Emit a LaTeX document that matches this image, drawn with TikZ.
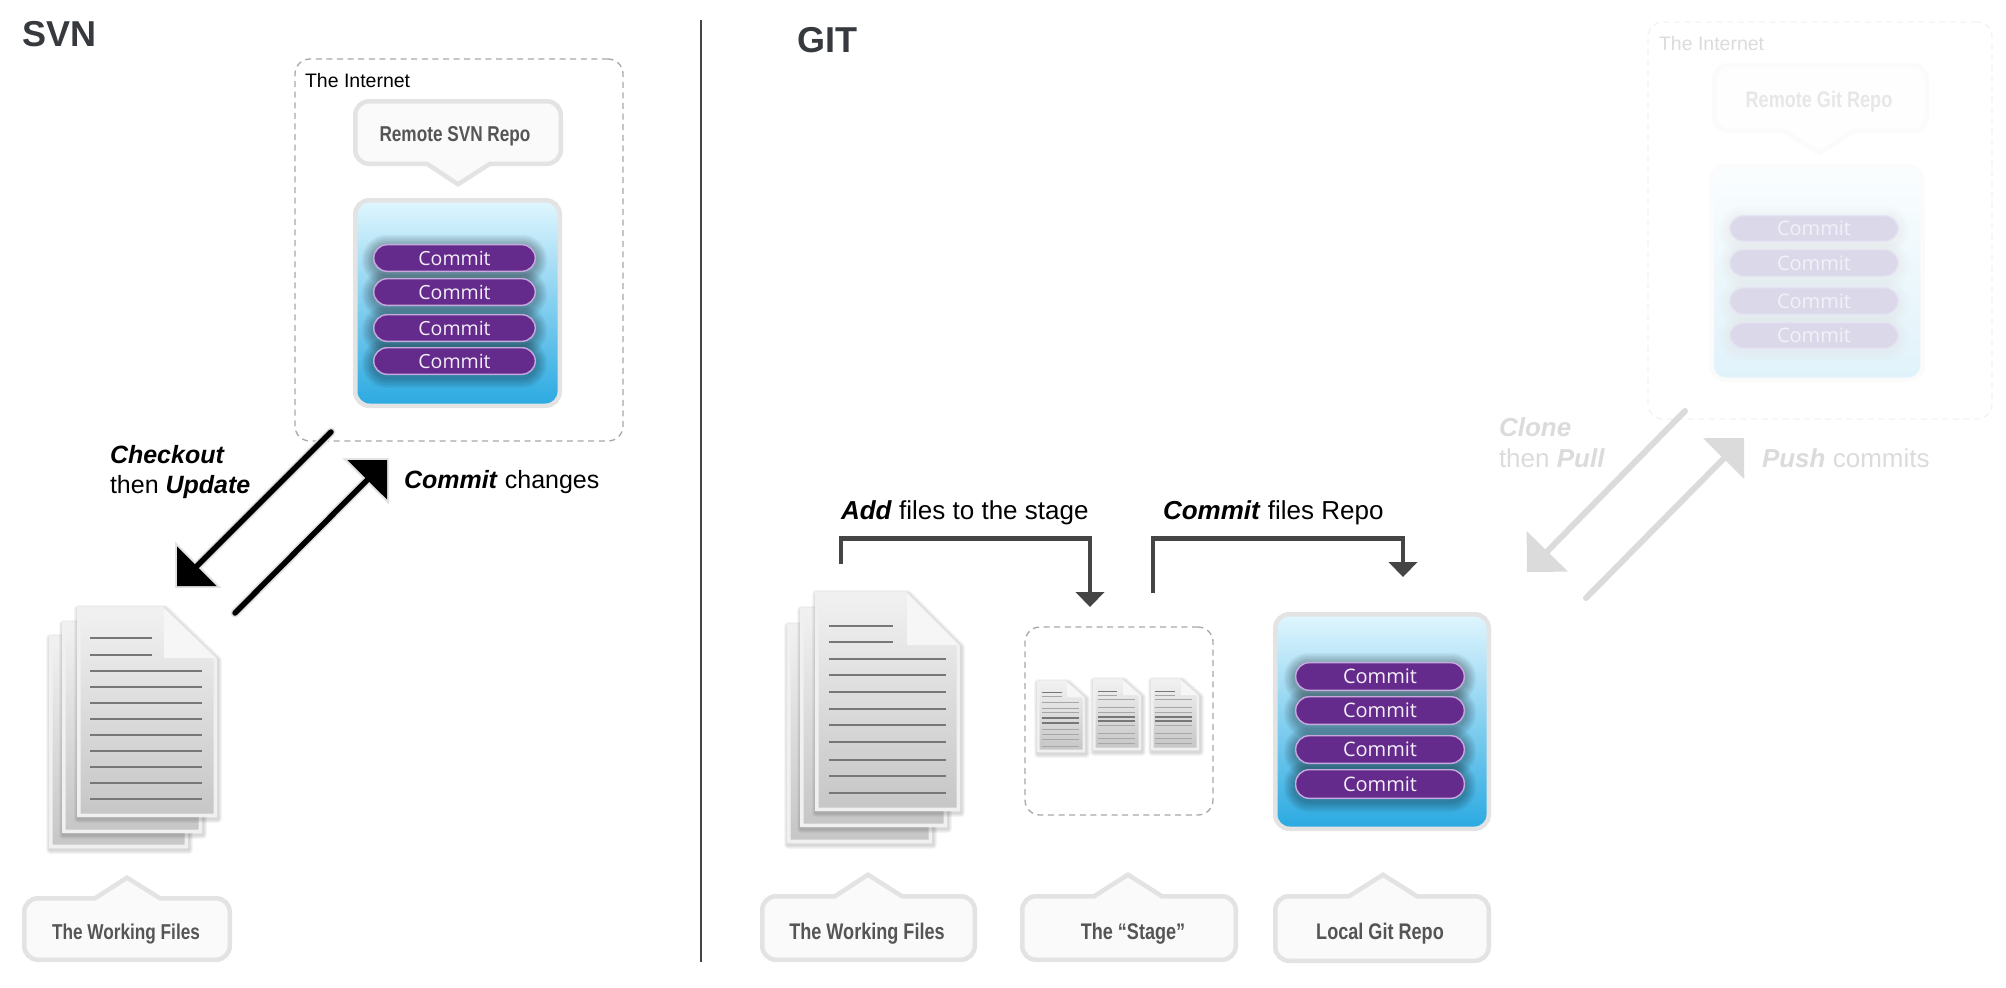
\documentclass[tikz,border=0pt]{standalone}
\usepackage{fontspec}
\setmainfont{Liberation Sans}
\newfontfamily\condfont[FakeStretch=0.80]{Liberation Sans}
\newfontfamily\commitfont{Open Sans}
\usetikzlibrary{arrows.meta}
\definecolor{edgegray}{HTML}{E3E3E3}
\definecolor{callfill}{HTML}{FAFAFA}
\definecolor{calltext}{HTML}{555555}
\definecolor{dashgray}{HTML}{A8A8A8}
\definecolor{titleink}{HTML}{36393D}
\definecolor{bracketink}{HTML}{454545}
\definecolor{pillfill}{HTML}{642B8C}
\definecolor{pillrim}{HTML}{C8A9DE}
\definecolor{pilltext}{HTML}{F4EFF8}
\definecolor{repotop}{HTML}{E0F6FE}
\definecolor{repobot}{HTML}{2AA9E1}
\definecolor{pagetop}{HTML}{F1F1F1}
\definecolor{pagebot}{HTML}{C6C6C6}
\definecolor{pagerim}{HTML}{F0F0F0}
\definecolor{foldfill}{HTML}{F6F6F6}
\definecolor{foldedge}{HTML}{DEDEDE}
\definecolor{pageline}{HTML}{777777}
\definecolor{fadepill}{HTML}{DBD8EA}
\definecolor{faderim}{HTML}{E6E4F2}
\definecolor{fadetext}{HTML}{F0F2F7}
\tikzset{
  txt/.style={anchor=base west,inner sep=0pt,outer sep=0pt,font=\fontsize{25}{30}\selectfont,text=black},
  gittxt/.style={txt,font=\fontsize{26}{31}\selectfont},
  inettxt/.style={anchor=base west,inner sep=0pt,outer sep=0pt,font=\fontsize{19.5}{22}\selectfont,text=black},
  titletxt/.style={anchor=base west,inner sep=0pt,outer sep=0pt,font=\fontsize{36}{40}\selectfont\bfseries,text=titleink},
  calltxt/.style={anchor=base,inner sep=0pt,outer sep=0pt,font=\fontsize{21.5}{24}\condfont\bfseries,text=calltext},
  gitcalltxt/.style={calltxt,font=\fontsize{22.6}{24}\condfont\bfseries},
  callbox/.style={draw=edgegray,fill=callfill,line width=4.5pt,miter limit=10},
  dashbox/.style={draw=dashgray,line width=1.3pt,dash pattern=on 6pt off 4.6pt,rounded corners=15pt,inner sep=0pt,outer sep=0pt},
  repobox/.style={draw=edgegray,line width=4.5pt,rounded corners=14pt,top color=repotop,bottom color=repobot,inner sep=0pt,outer sep=0pt},
  pillbox/.style={draw=pillrim,fill=pillfill,line width=1.4pt,rounded corners=13.5pt,inner sep=0pt,outer sep=0pt,text=pilltext},
  bigshaft/.style={line width=5.5pt,line cap=round,black,-{Triangle[length=28pt,width=56pt,line width=0pt]}},
  bighalo/.style={line width=9pt,line cap=round,edgegray,shorten >=-2.8pt,-{Triangle[length=33pt,width=66pt,line width=0pt]}},
  fadeshaft/.style={line width=6pt,line cap=round,black,-{Triangle[length=29pt,width=58pt,line width=0pt]}},
  bracket/.style={line width=4.6pt,bracketink,-{Triangle[length=15pt,width=29pt,line width=0pt]}},
  divider/.style={line width=2pt,draw=bracketink},
  pagelinethin/.style={line width=1.4pt,pageline},
  pagelinethick/.style={line width=2.1pt,pageline},
  tinyline/.style={line width=0.7pt,pageline!65},
}
% soft blurred shadow of a rounded box
\newcommand\softrect[6]{% x1 y1 x2 y2 radius reach-list
  \foreach \w in {#6}{\draw[black,opacity=0.045,line width=\w pt,rounded corners=#5pt,line join=round] (#1,#2) rectangle (#3,#4);}
}
% callouts, given by their outer edge
\newcommand\calldown[7]{% x1 y1 x2 y2 b1 b2 tipx,tipy
  \pgfmathsetmacro\aL{#1+2.25}\pgfmathsetmacro\aR{#3-2.25}\pgfmathsetmacro\aT{#2+2.25}\pgfmathsetmacro\aB{#4-2.25}
  \draw[callbox] ({\aL+14},\aT) -- ({\aR-14},\aT) .. controls ({\aR-6},\aT) and (\aR,{\aT+6}) .. (\aR,{\aT+14})
    -- (\aR,{\aB-14}) .. controls (\aR,{\aB-6}) and ({\aR-6},\aB) .. ({\aR-14},\aB)
    -- (#6,\aB) -- (#7) -- (#5,\aB) -- ({\aL+14},\aB) .. controls ({\aL+6},\aB) and (\aL,{\aB-6}) .. (\aL,{\aB-14})
    -- (\aL,{\aT+14}) .. controls (\aL,{\aT+6}) and ({\aL+6},\aT) .. ({\aL+14},\aT) -- cycle;
}
\newcommand\callup[7]{% x1 y1 x2 y2 b1 b2 tipx,tipy
  \pgfmathsetmacro\aL{#1+2.25}\pgfmathsetmacro\aR{#3-2.25}\pgfmathsetmacro\aT{#2+2.25}\pgfmathsetmacro\aB{#4-2.25}
  \draw[callbox] ({\aL+14},\aT) -- (#5,\aT) -- (#7) -- (#6,\aT) -- ({\aR-14},\aT) .. controls ({\aR-6},\aT) and (\aR,{\aT+6}) .. (\aR,{\aT+14})
    -- (\aR,{\aB-14}) .. controls (\aR,{\aB-6}) and ({\aR-6},\aB) .. ({\aR-14},\aB)
    -- ({\aL+14},\aB) .. controls ({\aL+6},\aB) and (\aL,{\aB-6}) .. (\aL,{\aB-14})
    -- (\aL,{\aT+14}) .. controls (\aL,{\aT+6}) and ({\aL+6},\aT) .. ({\aL+14},\aT) -- cycle;
}
% commit pills over a repository
\newcommand\pillshadows[3]{% x1 x2 list n/top/bottom
  \foreach \n/\a/\b in {#3}{\softrect{#1}{\a+2}{#2}{\b+2}{13.5}{22,19,16,13,10,7,4}}
}
\newcommand\pills[5]{% prefix x1 x2 size list
  \foreach \n/\a/\b in {#5}{
    \node[pillbox,minimum width={#3-#2-1.4},minimum height={\b-\a-1.4},font=\fontsize{#4}{22}\commitfont] (#1\n) at ({(#2+#3)/2},{(\a+\b)/2}) {Commit};
  }
}
% a sheet of paper: x1 y1 x2 y2 foldx foldy rim
\newcommand\docpage[7]{%
  \pgfmathsetmacro\bL{#1+#7/2}\pgfmathsetmacro\bR{#3-#7/2}\pgfmathsetmacro\bT{#2+#7/2}\pgfmathsetmacro\bB{#4-#7/2}
  \foreach \w in {8,6,4,2}{\draw[black,opacity=0.04,line width=\w pt,line join=round] ({#1+1},{#2+2}) -- ({#5+1},{#2+2}) -- ({#3+1},{#6+2}) -- ({#3+1},{#4+2}) -- ({#1+1},{#4+2}) -- cycle;}
  \shade[top color=pagetop,bottom color=pagebot] (\bL,\bT) -- (#5,\bT) -- (\bR,#6) -- (\bR,\bB) -- (\bL,\bB) -- cycle;
  \draw[pagerim,line width=#7 pt] (\bL,\bT) -- (#5,\bT) -- (\bR,#6) -- (\bR,\bB) -- (\bL,\bB) -- cycle;
  \fill[foldfill] (#5,#2) -- (#3,#6) -- (#5,#6) -- cycle;
  \draw[foldedge,line width=0.9pt] (#5,#2) -- (#3,#6);
}
\newcommand\bigarrow[2]{%
  \draw[bighalo] (#1) -- (#2);
  \draw[bigshaft] (#1) -- (#2);
}
\begin{document}
\begin{tikzpicture}[x=1pt,y=-1pt]
\useasboundingbox (0,0) rectangle (2006,988);
\fill[white] (0,0) rectangle (2006,988);

% ---------------- SVN side
\node[titletxt] (svnTitle) at (22,46) {SVN};
\coordinate (divTop) at (701,20);
\coordinate (divBot) at (701,962);
\draw[divider] (divTop) -- (divBot);

\node[dashbox,minimum width=328pt,minimum height=382pt] (svnNet) at (459,250) {};
\node[inettxt] (svnNetLabel) at (305,87) {The Internet};
\calldown{353}{99}{563}{166}{427}{490}{458,184.3}
\node[calltxt] (svnRemoteLabel) at (455,141) {Remote SVN Repo};
\node[repobox,minimum width=204.5pt,minimum height=205.5pt] (svnRepo) at (457.5,303) {};
\pillshadows{373}{536}{1/244/272,2/278/306,3/314/342,4/347/375}
\pills{svnc}{373}{536}{19.5}{1/244/272,2/278/306,3/314/342,4/347/375}

\docpage{49}{636}{188}{848}{136}{687}{3.5}
\docpage{62}{622}{202}{833}{150}{673}{3.5}
\docpage{77}{607}{217}{817}{164}{658}{3.5}
\draw[pagelinethick] (90,638) -- (152,638);
\draw[pagelinethin] (90,655) -- (152,655);
\foreach \y/\s in {671/thin,687/thick,703/thick,719/thin,735/thin,751/thin,767/thick,783/thick,799/thin}{
  \draw[pageline\s] (90,\y) -- (202,\y);
}
\callup{22}{896}{232}{962}{95}{160}{127,877.7}
\node[calltxt] (svnWorkLabel) at (126,939) {The Working Files};

\coordinate (svnDownA) at (331,432);
\coordinate (svnDownB) at (177,586);
\coordinate (svnUpA) at (235,613);
\coordinate (svnUpB) at (387,460);
\bigarrow{svnDownA}{svnDownB}
\bigarrow{svnUpA}{svnUpB}
\node[txt,align=left] (svnCheckout) at (110,493) {\textbf{\textit{Checkout}}\\then \textbf{\textit{Update}}};
\node[txt] (svnCommit) at (404,488) {\textbf{\textit{Commit}} changes};

% ---------------- GIT side
\node[titletxt] (gitTitle) at (797,52) {GIT};

\node[gittxt] (gitAdd) at (841,519) {\textbf{\textit{Add}} files to the stage};
\node[gittxt] (gitCommit) at (1163,519) {\textbf{\textit{Commit}} files Repo};
\coordinate (addA) at (841,564);
\coordinate (addC) at (1090,538.5);
\coordinate (addB) at (1090,607);
\draw[bracket] (addA) |- (addC) -- (addB);
\coordinate (comA) at (1153,593);
\coordinate (comC) at (1403,538.5);
\coordinate (comB) at (1403,577);
\draw[bracket] (comA) |- (comC) -- (comB);

\docpage{787}{624}{932}{843}{878}{677}{3.5}
\docpage{800}{608}{947}{827}{893}{661}{3.5}
\docpage{815}{592}{960}{811}{907}{645}{3.5}
\draw[pagelinethick] (829,626) -- (893,626);
\draw[pagelinethick] (829,642) -- (893,642);
\foreach \y/\s in {659/thick,675/thin,692/thin,709/thin,725/thin,742/thin,760/thin,776/thin,793/thick}{
  \draw[pageline\s] (829,\y) -- (946,\y);
}

\node[dashbox,minimum width=188pt,minimum height=188pt] (gitStage) at (1119,721) {};
\docpage{1037}{681}{1085}{752}{1067}{697}{2.5}
\docpage{1093}{679}{1141}{750}{1123}{695}{2.5}
\docpage{1151}{679}{1199}{750}{1181}{695}{2.5}
\draw[pageline,line width=1pt] (1042,692) -- (1062,692);
\draw[tinyline] (1042,696) -- (1062,696);
\foreach \y in {702,708,712,729,734,739,746}{
  \draw[tinyline] (1042,\y) -- (1079,\y);
}
\draw[pageline,line width=1.4pt] (1042,718) -- (1079,718);
\draw[pageline,line width=2pt] (1042,723) -- (1079,723);
\foreach \xa/\xb/\xc in {1098/1117/1135,1155/1175/1192}{
  \draw[pageline,line width=1pt] (\xa,691) -- (\xb,691);
  \draw[tinyline] (\xa,695) -- (\xb,695);
  \foreach \y in {699,707,712,725,733,738,743}{
    \draw[tinyline] (\xa,\y) -- (\xc,\y);
  }
  \draw[pageline,line width=1.1pt] (\xa,717) -- (\xc,717);
  \draw[pageline,line width=1.1pt] (\xa,721) -- (\xc,721);
}

\node[repobox,minimum width=213.5pt,minimum height=214.5pt] (gitRepo) at (1382,721.5) {};
\pillshadows{1295}{1465}{1/662/691,2/696/725,3/735/764,4/769/799}
\pills{gitc}{1295}{1465}{20}{1/662/691,2/696/725,3/735/764,4/769/799}

\callup{760}{894}{977}{962}{835}{902}{868,874.7}
\node[gitcalltxt] (gitWorkLabel) at (867,939) {The Working Files};
\callup{1020}{894}{1238}{962}{1094}{1162}{1128,874.7}
\node[gitcalltxt] (gitStageLabel) at (1133,939) {The “Stage”};
\callup{1273}{894}{1491}{963}{1349}{1417}{1383,874.7}
\node[gitcalltxt] (gitLocalLabel) at (1380,939) {Local Git Repo};

% ---------------- faded remote part of GIT
\begin{scope}[transparency group,opacity=0.14]
  \node[dashbox,minimum width=344pt,minimum height=397pt] (gitNet) at (1820,220.5) {};
  \node[inettxt] (gitNetLabel) at (1659,50) {The Internet};
  \calldown{1712}{63}{1929}{133}{1784}{1854}{1819,153.3}
  \node[gitcalltxt] (gitRemoteLabel) at (1819,107) {Remote Git Repo};
  \node[repobox,minimum width=211pt,minimum height=213.5pt] (gitRemote) at (1817,273) {};
  \pillshadows{1729}{1899}{1/215/242,2/249/277,3/287/315,4/322/349}
  \coordinate (gitDownA) at (1685,411);
  \coordinate (gitDownB) at (1527,572);
  \coordinate (gitUpA) at (1586,598);
  \coordinate (gitUpB) at (1744,438);
  \draw[fadeshaft] (gitDownA) -- (gitDownB);
  \draw[fadeshaft] (gitUpA) -- (gitUpB);
  \node[gittxt,align=left] (gitClone) at (1499,467) {\textbf{\textit{Clone}}\\then \textbf{\textit{Pull}}};
  \node[gittxt] (gitPush) at (1762,467) {\textbf{\textit{Push}} commits};
\end{scope}
\begin{scope}[pillbox/.append style={draw=faderim,fill=fadepill,text=fadetext}]
  \pills{gitr}{1729}{1899}{20}{1/215/242,2/249/277,3/287/315,4/322/349}
\end{scope}
\end{tikzpicture}
\end{document}
